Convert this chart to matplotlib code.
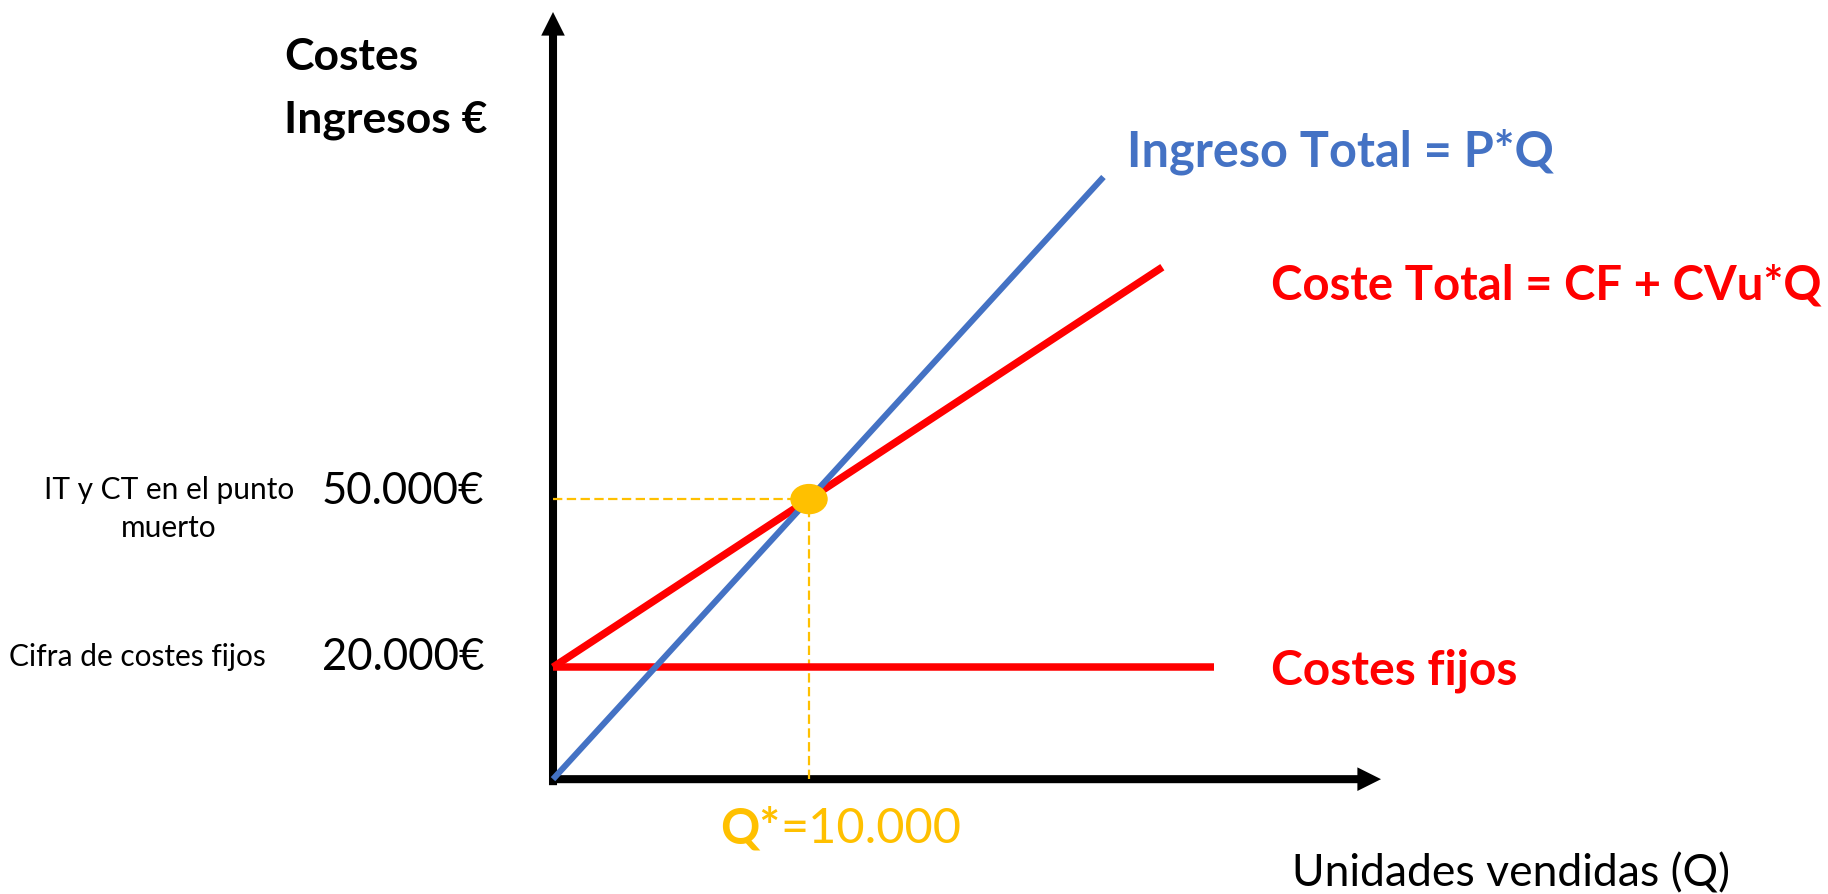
import matplotlib
matplotlib.use("Agg")
import matplotlib.pyplot as plt
from matplotlib.patches import FancyArrowPatch, Ellipse

plt.rcParams['font.family'] = ['Lato', 'DejaVu Sans']

# ---- break-even model (units sold Q, euros) ----
revenue_q = [0, 10000, 21500]
revenue_eur = [0, 50000, 107500]          # Ingreso Total = P*Q, P = 5 €
total_cost_q = [0, 10000, 23800]
total_cost_eur = [20000, 50000, 91400]    # Coste Total = CF + CVu*Q, CVu = 3 €
fixed_cost_q = [0, 25800]
fixed_cost_eur = [20000, 20000]           # Costes fijos

breakeven_q = 10000
breakeven_eur = 50000

value_marks = [20000, 50000]
value_labels = ['20.000€', '50.000€']
value_notes = ['Cifra de costes fijos', 'IT y CT en el punto\nmuerto']

BLUE = '#4472C4'
RED = '#FF0000'
GOLD = '#FFC000'

W, H = 1828, 894
fig = plt.figure(figsize=(W / 100, H / 100), dpi=100)
ax = fig.add_axes([0, 0, 1, 1])
ax.set_xlim(-21600, 49800)
ax.set_ylim(-20500, 139100)
ax.axis('off')


def frac(x, y):
    """pixel position (from top-left) -> axes fraction"""
    return (x / W, 1 - y / H)


# ---- axes drawn as arrows through the origin ----
ox, oy = ax.transLimits.transform((0, 0))
arrow_style = 'simple,tail_width=5.8,head_width=17,head_length=17'
ax.add_patch(FancyArrowPatch((ox, oy - 6 / H), (ox, frac(0, 12)[1]),
                             transform=ax.transAxes, arrowstyle=arrow_style,
                             mutation_scale=1, color='black', lw=0, zorder=2,
                             shrinkA=0, shrinkB=0))
ax.add_patch(FancyArrowPatch((ox - 4 / W, oy), (frac(1381, 0)[0], oy),
                             transform=ax.transAxes, arrowstyle=arrow_style,
                             mutation_scale=1, color='black', lw=0, zorder=2,
                             shrinkA=0, shrinkB=0))

# ---- guide lines to the break-even point ----
ax.plot([0, breakeven_q], [breakeven_eur, breakeven_eur], color=GOLD, lw=1.6,
        linestyle=(0, (4.2, 2)), zorder=3)
ax.plot([breakeven_q, breakeven_q], [0, breakeven_eur], color=GOLD, lw=1.6,
        linestyle=(0, (4.2, 2)), zorder=3)

# ---- cost and revenue lines ----
ax.plot(fixed_cost_q, fixed_cost_eur, color=RED, lw=5.4, solid_capstyle='butt', zorder=4)
ax.plot(total_cost_q, total_cost_eur, color=RED, lw=5.4, solid_capstyle='butt', zorder=4)
ax.plot(revenue_q, revenue_eur, color=BLUE, lw=4.4, solid_capstyle='butt', zorder=5)

# break-even marker (36 x 29 px)
x0, x1 = ax.get_xlim()
y0, y1 = ax.get_ylim()
ax.add_patch(Ellipse((breakeven_q, breakeven_eur), 36 * (x1 - x0) / W,
                     29 * (y1 - y0) / H, color=GOLD, zorder=6))

# ---- line labels ----
ax.text(*frac(1127, 167), 'Ingreso Total = P*Q', transform=ax.transAxes,
        color=BLUE, fontsize=35, fontweight='bold', ha='left', va='baseline')
ax.annotate('Coste Total = CF + CVu*Q', xy=(frac(1271, 0)[0], total_cost_eur[-1]),
            xycoords=('axes fraction', 'data'), xytext=(0, -18),
            textcoords='offset pixels', color=RED, fontsize=34, fontweight='bold',
            ha='left', va='center')
ax.annotate('Costes fijos', xy=(frac(1271, 0)[0], fixed_cost_eur[-1]),
            xycoords=('axes fraction', 'data'), xytext=(0, -4),
            textcoords='offset pixels', color=RED, fontsize=34.5, fontweight='bold',
            ha='left', va='center')

# ---- axis titles ----
ax.text(*frac(284, 70), 'Costes', transform=ax.transAxes, fontsize=32,
        fontweight='bold', ha='left', va='baseline')
ax.text(*frac(284, 133), 'Ingresos €', transform=ax.transAxes, fontsize=32,
        fontweight='bold', ha='left', va='baseline')
ax.text(*frac(1292, 886), 'Unidades vendidas (Q)', transform=ax.transAxes,
        fontsize=32, ha='left', va='baseline')

# ---- value marks on the vertical axis ----
for val, lab, note, note_x, dy_lab, dy_note in zip(value_marks, value_labels,
                                                   value_notes, [137, 169],
                                                   [10, 8], [10, -10]):
    ax.annotate(lab, xy=(frac(484, 0)[0], val), xycoords=('axes fraction', 'data'),
                xytext=(0, dy_lab), textcoords='offset pixels', fontsize=31.5,
                ha='right', va='center')
    ax.annotate(note, xy=(frac(note_x, 0)[0], val),
                xycoords=('axes fraction', 'data'), xytext=(0, dy_note),
                textcoords='offset pixels', fontsize=21.5, ha='center',
                va='center', linespacing=1.45)

# ---- break-even quantity on the horizontal axis ----
q_lab = ax.annotate('Q*', xy=(breakeven_q, 0), xycoords='data',
                    xytext=(-89, -64), textcoords='offset pixels', color=GOLD,
                    fontsize=35, fontweight='bold', ha='left', va='baseline')
ax.annotate('=10.000', xy=(1, 0), xycoords=q_lab, color=GOLD, fontsize=35,
            ha='left', va='bottom')

fig.savefig('out.png', dpi=100)
